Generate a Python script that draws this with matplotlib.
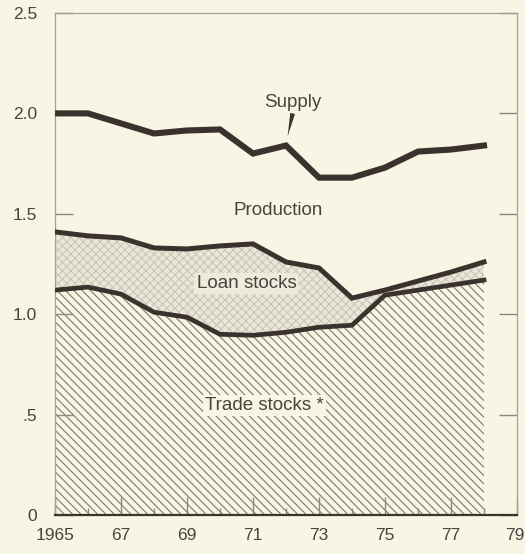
import matplotlib
matplotlib.use("Agg")
import matplotlib.pyplot as plt
import numpy as np

years = [1965, 1966, 1967, 1968, 1969, 1970, 1971, 1972, 1973, 1974, 1975, 1976, 1977, 1978]
supply = [2.00, 2.00, 1.95, 1.90, 1.915, 1.92, 1.80, 1.84, 1.68, 1.68, 1.73, 1.81, 1.82, 1.84]
loan_top = [1.41, 1.39, 1.38, 1.33, 1.325, 1.34, 1.35, 1.26, 1.23, 1.08, 1.12, 1.165, 1.21, 1.26]
trade = [1.12, 1.135, 1.10, 1.01, 0.985, 0.90, 0.895, 0.91, 0.935, 0.945, 1.095, 1.12, 1.145, 1.17]

ytick_vals = [0, 0.5, 1.0, 1.5, 2.0, 2.5]
ytick_labels = ['0', '.5', '1.0', '1.5', '2.0', '2.5']
xtick_vals = [1965, 1967, 1969, 1971, 1973, 1975, 1977, 1979]
xtick_labels = ['1965', '67', '69', '71', '73', '75', '77', '79']

bg = '#f7f5e4'
dark = '#3b322d'
txt = '#48433e'
tickc = '#8d897f'

plt.rcParams['font.family'] = ['Liberation Sans', 'DejaVu Sans']
plt.rcParams['hatch.linewidth'] = 0.8

fig = plt.figure(figsize=(5.25, 5.54), dpi=100, facecolor=bg)
ax = fig.add_axes([55/525, 1-515/554, 462/525, 502/554])
ax.set_facecolor(bg)
ax.set_xlim(1965, 1979)
ax.set_ylim(0, 2.5)

ax.fill_between(years, 0, trade, facecolor=bg, edgecolor='#7d786f',
                hatch='\\\\\\\\', linewidth=0, zorder=1)
ax.fill_between(years, trade, loan_top, facecolor='#eae8d9', edgecolor='#cac7b9',
                hatch='xxxx', linewidth=0, zorder=1)

ax.plot(years, supply, color=dark, lw=4.4, solid_joinstyle='miter', zorder=3)
ax.plot(years, loan_top, color=dark, lw=3.6, solid_joinstyle='miter', zorder=3)
ax.plot(years, trade, color=dark, lw=3.4, solid_joinstyle='round', zorder=3)

ax.text(1972.2, 2.055, 'Supply', ha='center', va='center', fontsize=13.5, color=txt, zorder=4)
ax.annotate('', xy=(1972.05, 1.885), xytext=(1972.2, 2.0),
            arrowprops=dict(arrowstyle='wedge,tail_width=0.35', color=dark, lw=0, shrinkA=0, shrinkB=0),
            zorder=4)
ax.text(1971.75, 1.515, 'Production', ha='center', va='center', fontsize=13.5, color=txt, zorder=4)
ax.text(1970.8, 1.155, 'Loan stocks', ha='center', va='center', fontsize=13.5, color=txt, zorder=4,
        bbox=dict(facecolor='#ecebdc', edgecolor='none', pad=1.5))
ax.text(1971.35, 0.547, 'Trade stocks *', ha='center', va='center', fontsize=13.5, color=txt, zorder=4,
        bbox=dict(facecolor=bg, edgecolor='none', pad=1.5))

ax.set_yticks(ytick_vals, labels=ytick_labels)
# last x label is drawn right-aligned so it stays inside the figure
ax.set_xticks(xtick_vals, labels=xtick_labels[:-1] + [''])
ax.annotate(xtick_labels[-1], xy=(xtick_vals[-1], 0), xycoords=('data', 'axes fraction'),
            xytext=(5.5, -9), textcoords='offset points', ha='right', va='top',
            fontsize=12.5, color=txt, annotation_clip=False)
ax.set_xticks(np.arange(1965, 1980, 1), minor=True)
ax.tick_params(axis='both', which='major', direction='in', length=13, width=1,
               color=tickc, labelsize=12.5, labelcolor=txt)
ax.tick_params(axis='y', which='major', right=True, pad=13)
ax.tick_params(axis='x', which='major', pad=9)
ax.tick_params(axis='x', which='minor', direction='in', length=5, width=1, color=tickc)
ax.tick_params(axis='y', which='minor', left=False, right=False)

for s in ['top', 'right', 'left']:
    ax.spines[s].set_color('#a5a196')
    ax.spines[s].set_linewidth(0.9)
ax.spines['bottom'].set_color(dark)
ax.spines['bottom'].set_linewidth(1.6)

fig.savefig('out.png', dpi=100, facecolor=bg)
